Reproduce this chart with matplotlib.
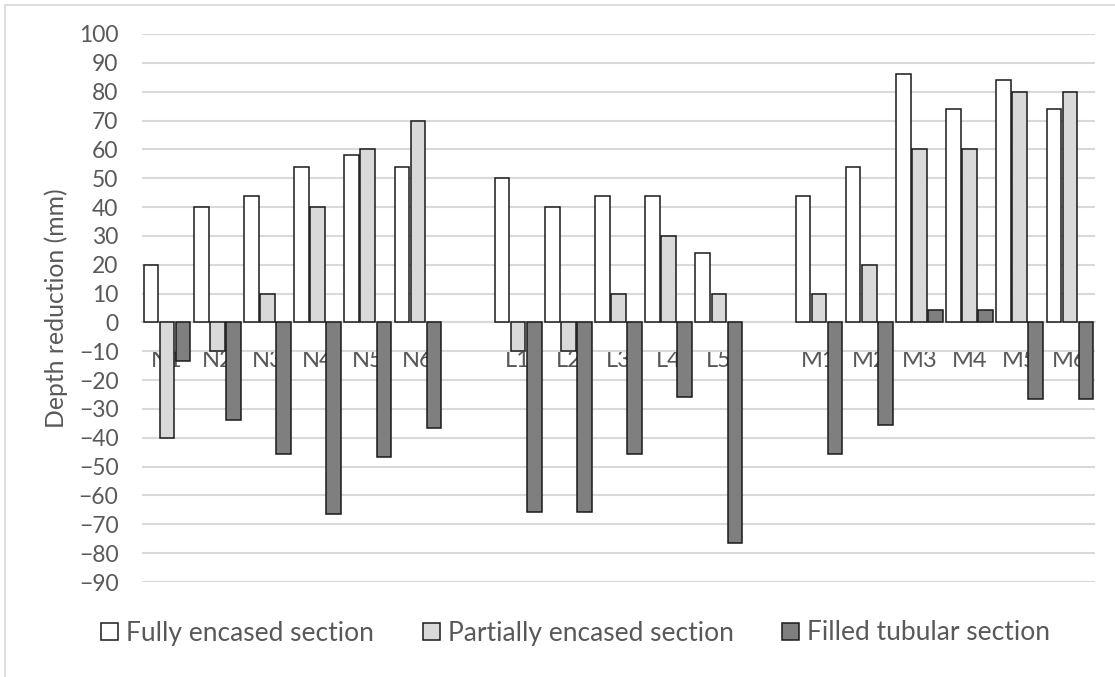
import matplotlib
matplotlib.use("Agg")
import matplotlib.pyplot as plt
from matplotlib.patches import Patch, Rectangle
import numpy as np

plt.rcParams['font.family'] = ['Lato', 'DejaVu Sans']

# Specimens: three groups separated by an empty slot
categories = ["N1", "N2", "N3", "N4", "N5", "N6", "",
              "L1", "L2", "L3", "L4", "L5", "",
              "M1", "M2", "M3", "M4", "M5", "M6"]

fully_encased = [20, 40, 44, 54, 58, 54, np.nan,
                 50, 40, 44, 44, 24, np.nan,
                 44, 54, 86, 74, 84, 74]
partially_encased = [-40, -10, 10, 40, 60, 70, np.nan,
                     -10, -10, 10, 30, 10, np.nan,
                     10, 20, 60, 60, 80, 80]
filled_tubular = [-13.3, -34, -45.6, -66.3, -46.5, -36.7, np.nan,
                  -65.7, -65.7, -45.6, -25.7, -76.4, np.nan,
                  -45.6, -35.5, 4.2, 4.2, -26.5, -26.5]

series = [
    ("Fully encased section", fully_encased, "#ffffff"),
    ("Partially encased section", partially_encased, "#d9d9d9"),
    ("Filled tubular section", filled_tubular, "#7f7f7f"),
]

text_color = "#595959"
grid_color = "#d9d9d9"

fig = plt.figure(figsize=(11.15, 6.77), dpi=100)
ax = fig.add_axes([0.1274, 0.1403, 0.8546, 0.8095])

x = np.arange(len(categories))
width = 0.29
offsets = [-0.32, 0.0, 0.32]

handles = []
for (name, vals, color), off in zip(series, offsets):
    ax.bar(x + off, vals, width, color=color, edgecolor="#1a1a1a",
           linewidth=1.1, zorder=3)
    handles.append(Patch(facecolor=color, edgecolor="#1a1a1a",
                         linewidth=1.1, label=name))

ax.set_xlim(-0.5, len(categories) - 0.5)
ax.set_ylim(-90, 100)
ax.set_yticks(np.arange(-90, 101, 10))
ax.yaxis.grid(True, color=grid_color, linewidth=1.5, zorder=0)
ax.set_axisbelow(True)

for side in ("top", "right", "left"):
    ax.spines[side].set_visible(False)
ax.spines["bottom"].set_position(("data", 0))
ax.spines["bottom"].set_color(grid_color)
ax.spines["bottom"].set_linewidth(1.5)
ax.spines["bottom"].set_zorder(1)

ax.set_xticks(x)
ax.set_xticklabels(categories)
ax.tick_params(axis="x", length=0, pad=20, labelsize=17, labelcolor=text_color)
ax.tick_params(axis="y", length=0, pad=17, labelsize=16.5, labelcolor=text_color)

fig.text(56 / 1115, 1 - 308 / 677, "Depth reduction (mm)", rotation=90,
         ha="center", va="center", fontsize=17.8, color=text_color)

fig.legend(handles=handles, loc="center", bbox_to_anchor=(0.5163, 1 - 633 / 677),
           ncol=3, frameon=False, fontsize=19, labelcolor=text_color,
           handlelength=0.64, handleheight=0.64, handletextpad=0.3,
           columnspacing=1.85)

# light outer frame of the chart area
fig.patches.append(Rectangle((5 / 1115, -0.05), 1.2, 1 - 5 / 677 + 0.05,
                             transform=fig.transFigure, fill=False,
                             edgecolor=grid_color, linewidth=1.2))

fig.savefig("out.png", dpi=100)
